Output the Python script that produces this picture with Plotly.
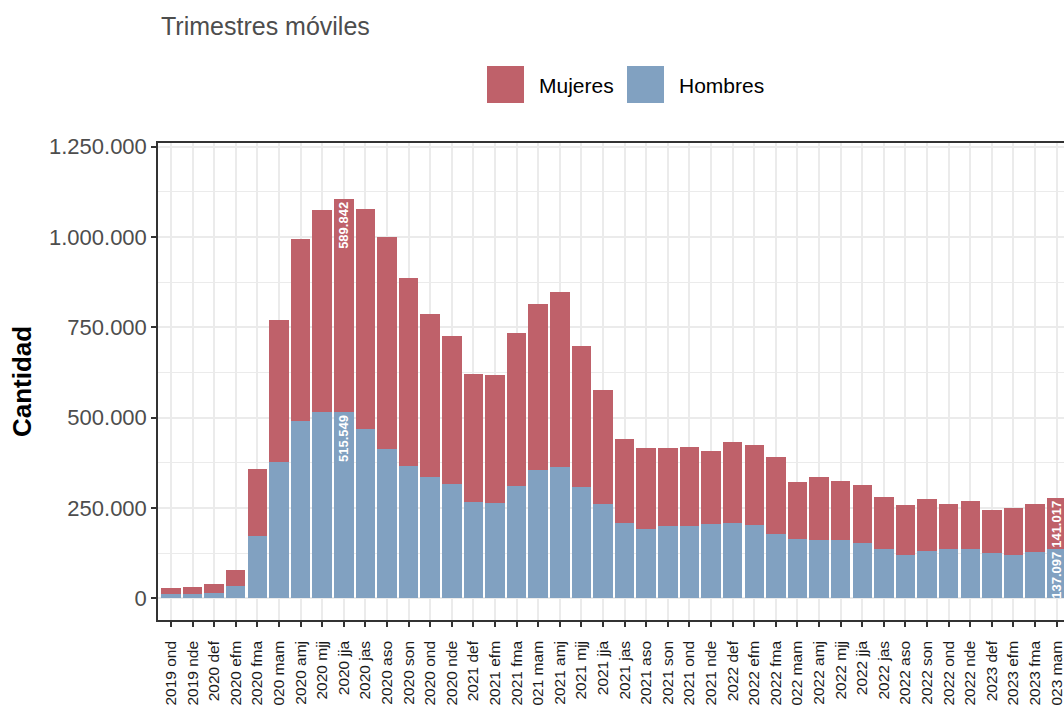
import plotly.graph_objects as go

# ---------------- data ----------------
categorias = [
    "2019 ond", "2019 nde", "2020 def", "2020 efm", "2020 fma", "2020 mam", "2020 amj",
    "2020 mjj", "2020 jja", "2020 jas", "2020 aso", "2020 son", "2020 ond", "2020 nde",
    "2021 def", "2021 efm", "2021 fma", "2021 mam", "2021 amj", "2021 mjj", "2021 jja",
    "2021 jas", "2021 aso", "2021 son", "2021 ond", "2021 nde", "2022 def", "2022 efm",
    "2022 fma", "2022 mam", "2022 amj", "2022 mjj", "2022 jja", "2022 jas", "2022 aso",
    "2022 son", "2022 ond", "2022 nde", "2023 def", "2023 efm", "2023 fma", "2023 mam",
]
hombres = [
    11200, 11000, 14100, 33200, 173800, 376100, 489700,
    514700, 515549, 467600, 412100, 365000, 334500, 315200,
    265300, 265100, 312200, 354100, 362300, 307100, 260200,
    207200, 193100, 199000, 201500, 204300, 207100, 201600,
    179100, 165500, 160100, 162700, 154400, 137800, 121200,
    132200, 137700, 137800, 126700, 121100, 129400, 137097,
]
mujeres = [
    18600, 21400, 26700, 46300, 182900, 393600, 504400,
    559800, 589842, 609600, 587600, 521100, 451700, 409900,
    355000, 352300, 421400, 461300, 484800, 390500, 315500,
    232900, 222000, 216300, 216200, 202300, 224400, 221600,
    210900, 155200, 174400, 160700, 158000, 141300, 135800,
    141400, 122000, 130300, 116400, 127500, 130300, 141017,
]
y_ticks = [0, 250000, 500000, 750000, 1000000, 1250000]

titulo = "Trimestres móviles"
y_titulo = "Cantidad"

# ---------------- style ----------------
COL_M = "#BF616A"
COL_H = "#81A1C1"
FONT = "Liberation Sans"
W, H = 1064, 706
ML, MR, MT, MB = 158, 0, 143, 86
PW, PH = W - ML - MR, H - MT - MB


def px_x(p):
    return (p - ML) / PW


def px_y(p):
    return (H - MB - p) / PH


def fmt(v):
    return f"{v:,.0f}".replace(",", ".")


totales = [h + m for h, m in zip(hombres, mujeres)]
idx_lab = {totales.index(max(totales)), len(categorias) - 1}


def etiquetas(vals):
    return [fmt(v) if i in idx_lab else "" for i, v in enumerate(vals)]


series = [("Hombres", hombres, COL_H), ("Mujeres", mujeres, COL_M)]

fig = go.Figure()
for nombre, vals, col in series:
    fig.add_trace(go.Bar(
        x=categorias, y=vals, name=nombre,
        marker=dict(color=col, line=dict(width=0)),
        text=etiquetas(vals),
        textposition="inside", insidetextanchor="end", textangle=-90,
        constraintext="none",
        textfont=dict(color="white", size=13, family=FONT, weight="bold"),
        showlegend=False,
    ))

fig.update_layout(
    width=W, height=H, autosize=False,
    margin=dict(l=ML, r=MR, t=MT, b=MB, pad=0, autoexpand=False),
    barmode="stack", bargap=0.1,
    plot_bgcolor="white", paper_bgcolor="white",
    separators=",.",
    font=dict(family=FONT, color="#4d4d4d"),
)

fig.update_xaxes(
    type="category", range=[-0.6, 41.34], automargin=False,
    showgrid=True, gridcolor="#ebebeb", gridwidth=1.5,
    showline=True, linecolor="#333333", linewidth=1.5, mirror=True,
    ticks="outside", ticklen=5, tickwidth=1.5, tickcolor="#333333",
    tickangle=-90, tickfont=dict(family=FONT, size=15.5, color="#1a1a1a"),
    ticklabelstandoff=8,
    zeroline=False,
)
fig.update_yaxes(
    range=[-60000, 1260000], automargin=False,
    tickvals=y_ticks, tickformat=",d",
    showgrid=True, gridcolor="#ebebeb", gridwidth=1.5,
    minor=dict(dtick=125000, tick0=0, showgrid=True, gridcolor="#ebebeb", gridwidth=0.8, ticklen=0),
    showline=True, linecolor="#333333", linewidth=1.5, mirror=False,
    ticks="outside", ticklen=5, tickwidth=1.5, tickcolor="#333333",
    tickfont=dict(family=FONT, size=22, color="#4d4d4d"),
    zeroline=False,
    title=dict(text=f"<b>{y_titulo}</b>", font=dict(family=FONT, size=26, color="black"), standoff=10),
)

# title
fig.add_annotation(
    xref="paper", yref="paper", x=px_x(159), y=px_y(26),
    xanchor="left", yanchor="middle", showarrow=False,
    text=titulo, font=dict(family=FONT, size=25, color="#4d4d4d"),
)

# legend (top, horizontal): Mujeres then Hombres
leg_items = [("Mujeres", COL_M, 487), ("Hombres", COL_H, 627)]
for nombre, col, x0 in leg_items:
    fig.add_shape(
        type="rect", xref="paper", yref="paper",
        x0=px_x(x0), x1=px_x(x0 + 37), y0=px_y(103), y1=px_y(66),
        fillcolor=col, line=dict(width=0),
    )
    fig.add_annotation(
        xref="paper", yref="paper", x=px_x(x0 + 50), y=px_y(85),
        xanchor="left", yanchor="middle", showarrow=False,
        text=nombre, font=dict(family=FONT, size=21, color="black"),
    )

fig.write_html(
    "out.html",
    config={"displayModeBar": False},
    post_script=(
        "document.documentElement.style.margin='0';"
        "document.body.style.margin='0';document.body.style.padding='0';"
        "document.documentElement.style.overflow='hidden';"
        "document.body.style.overflow='hidden';"
    ),
)
